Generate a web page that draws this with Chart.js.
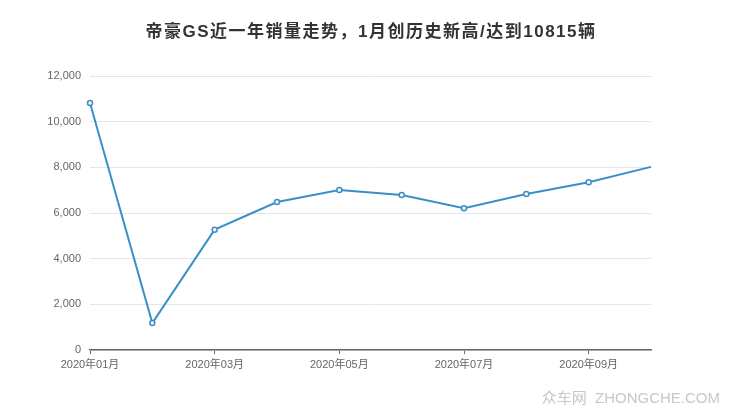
<!DOCTYPE html>
<html><head><meta charset="utf-8">
<script src="https://cdn.jsdelivr.net/npm/chart.js@4/dist/chart.umd.min.js"></script>
<style>html,body{margin:0;padding:0;background:#fff}#w{width:740px;height:417px;position:relative}</style>
</head><body><div id="w"><canvas id="c" width="740" height="417"></canvas></div>
<script>
const titleText = '帝豪GS近一年销量走势，1月创历史新高/达到10815辆';
const months = ['2020年01月','2020年02月','2020年03月','2020年04月','2020年05月','2020年06月','2020年07月','2020年08月','2020年09月','2020年10月'];
const sales = [10815, 1180, 5270, 6480, 7010, 6790, 6210, 6830, 7350, 8020];
const yTicks = [0, 2000, 4000, 6000, 8000, 10000, 12000];
const watermark = '众车网  ZHONGCHE.COM';

const FONT = '"Liberation Sans","Noto Sans CJK SC",sans-serif';
const lineColor = '#3b8fc7';

const deco = {
  id: 'deco',
  afterDraw(chart) {
    const ctx = chart.ctx;
    ctx.save();
    ctx.font = 'bold 17px ' + FONT;
    ctx.fillStyle = '#333';
    ctx.textAlign = 'center';
    ctx.textBaseline = 'middle';
    if ('letterSpacing' in ctx) ctx.letterSpacing = '1.5px';
    ctx.fillText(titleText, 371, 32);
    if ('letterSpacing' in ctx) ctx.letterSpacing = '0px';
    ctx.font = '15px ' + FONT;
    ctx.fillStyle = '#c8c8c8';
    ctx.textAlign = 'right';
    ctx.fillText(watermark, 720, 399);
    ctx.restore();
  }
};

new Chart(document.getElementById('c'), {
  type: 'line',
  data: {
    labels: months,
    datasets: [{
      data: sales,
      borderColor: lineColor,
      borderWidth: 2,
      backgroundColor: '#fff',
      pointBackgroundColor: '#fff',
      pointBorderColor: lineColor,
      pointBorderWidth: 1.5,
      pointRadius: sales.map((v, i) => i === sales.length - 1 ? 0 : 2.5),
      tension: 0,
      fill: false
    }]
  },
  plugins: [deco],
  options: {
    responsive: false,
    animation: false,
    devicePixelRatio: 1,
    layout: { padding: { left: 0, right: 89, top: 76, bottom: 0 } },
    plugins: {
      legend: { display: false },
      tooltip: { enabled: false },
      title: { display: false }
    },
    scales: {
      x: {
        offset: false,
        grid: {
          drawOnChartArea: false,
          drawTicks: true,
          tickLength: 4,
          color: ctx => (ctx.index % 2 === 0 ? '#666' : 'rgba(0,0,0,0)')
        },
        border: { display: true, color: '#666', width: 1.5 },
        ticks: {
          autoSkip: false,
          maxRotation: 0,
          padding: 4,
          color: '#666',
          font: { family: FONT, size: 11 },
          callback: (v, i) => (i % 2 === 0 ? months[i] : '')
        },
        afterFit: s => { s.height = 67; }
      },
      y: {
        min: 0,
        max: 12000,
        afterBuildTicks: s => { s.ticks = yTicks.map(v => ({ value: v })); },
        grid: { color: '#e6e6e6', drawTicks: false, lineWidth: 1 },
        border: { display: false },
        ticks: {
          padding: 9,
          color: '#666',
          font: { family: FONT, size: 11 },
          callback: v => v.toLocaleString('en-US')
        },
        afterFit: s => { s.width = 90; }
      }
    }
  }
});
</script></body></html>
